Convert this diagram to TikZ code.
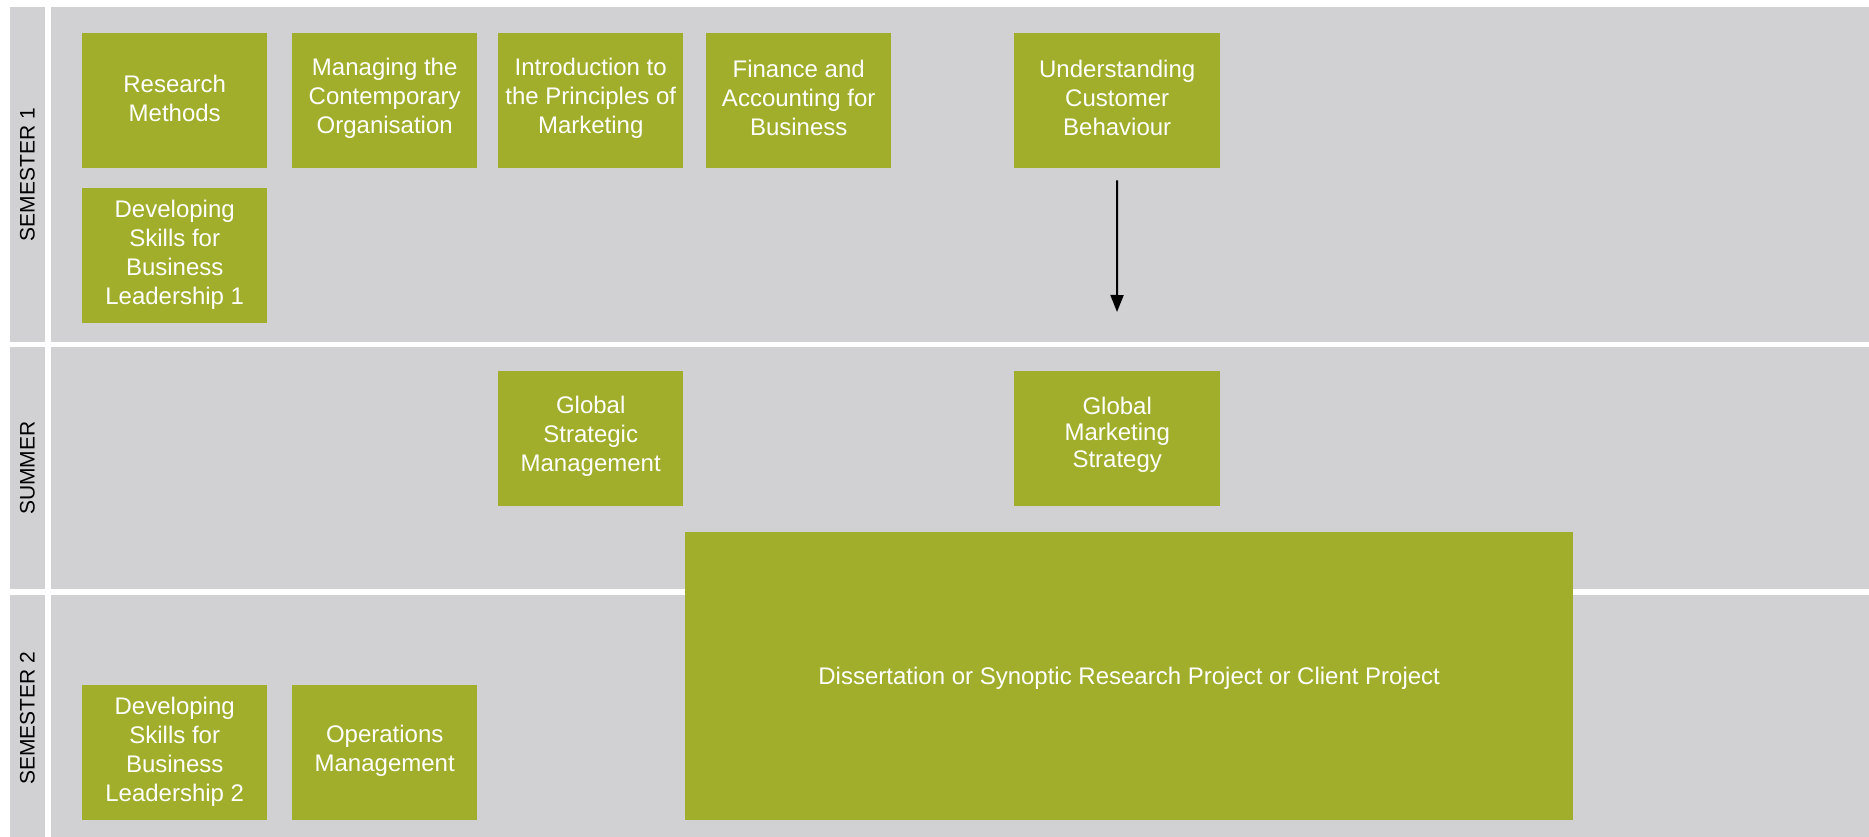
\documentclass[tikz,border=0pt]{standalone}
\usepackage{fontspec}
\setmainfont{Liberation Sans}
\usetikzlibrary{arrows.meta}
\definecolor{lanegray}{RGB}{209,209,211}
\definecolor{modgreen}{RGB}{160,174,43}
\tikzset{
  lane/.style={fill=lanegray, draw=none},
  modbox/.style={rectangle, fill=modgreen, draw=none, inner sep=0pt, anchor=north west},
  modtext/.style={text=white, align=center, inner sep=0pt, font=\fontsize{24}{29}\selectfont},
  lanelabel/.style={rotate=90, text=black, inner sep=0pt, font=\fontsize{21}{25}\selectfont},
  flowarrow/.style={line width=2pt, -{Triangle[length=17pt,width=13pt]}}
}
% #1 name, #2-#5 box corners, #6 text, #7 extra text options
\newcommand{\modnode}[7]{%
  \node[modbox, minimum width=#4pt-#2pt, minimum height=#5pt-#3pt] (#1) at (#2,#3) {};
  \node[modtext, #7] (#1t) at (#1.center) {#6};}
\begin{document}
\begin{tikzpicture}[x=1pt,y=-1pt]
\useasboundingbox (0,0) rectangle (1869,837);
\fill[white] (0,0) rectangle (1869,837);
% lanes
\fill[lane] (10,7) rectangle (45,342);
\fill[lane] (51,7) rectangle (1869,342);
\fill[lane] (10,347) rectangle (45,589);
\fill[lane] (51,347) rectangle (1869,589);
\fill[lane] (10,595) rectangle (45,837);
\fill[lane] (51,595) rectangle (1869,837);
% lane labels
\node[lanelabel] (l1) at (27.5,174.5) {SEMESTER 1};
\node[lanelabel] (l2) at (27.5,468) {SUMMER};
\node[lanelabel] (l3) at (27.5,718) {SEMESTER 2};
% modules
\modnode{rm}{82}{33}{267}{168}{Research\\Methods}{yshift=2pt}
\modnode{mco}{292}{33}{477}{168}{Managing the\\Contemporary\\Organisation}{yshift=2pt}
\modnode{ipm}{498}{33}{683}{168}{Introduction to\\the Principles of\\Marketing}{yshift=2pt}
\modnode{fab}{706}{33}{891}{168}{Finance and\\Accounting for\\Business}{yshift=3pt}
\modnode{ucb}{1014}{33}{1220}{168}{Understanding\\Customer\\Behaviour}{yshift=3pt}
\modnode{dsl1}{82}{188}{267}{323}{Developing\\Skills for\\Business\\Leadership 1}{yshift=1pt}
\modnode{gsm}{498}{371}{683}{506}{Global\\Strategic\\Management}{yshift=2pt}
\modnode{gms}{1014}{371}{1220}{506}{Global\\Marketing\\Strategy}{yshift=4pt, font=\fontsize{24}{26.5}\selectfont}
\modnode{diss}{685}{532}{1573}{820}{Dissertation or Synoptic Research Project or Client Project}{yshift=-2pt}
\modnode{dsl2}{82}{685}{267}{820}{Developing\\Skills for\\Business\\Leadership 2}{yshift=1pt}
\modnode{om}{292}{685}{477}{820}{Operations\\Management}{yshift=2pt}
% arrow
\coordinate (arrend) at (1117,312);
\draw[flowarrow] ([yshift=-12pt]ucb.south) -- (arrend);
\end{tikzpicture}
\end{document}
